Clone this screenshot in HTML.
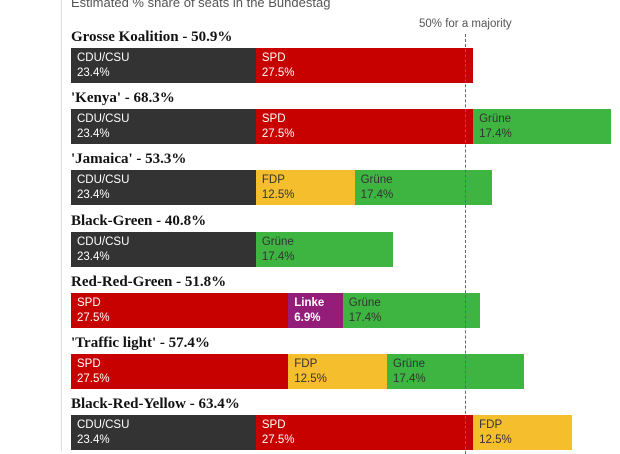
<!DOCTYPE html>
<html><head><meta charset="utf-8"><style>
body{margin:0;width:620px;height:451px;background:#fff;overflow:hidden;font-family:"Liberation Sans",sans-serif;}
#c{position:relative;width:620px;height:451px;}
.t{position:absolute;left:71px;font-family:"Liberation Serif",serif;font-weight:bold;font-size:15px;color:#121212;white-space:nowrap;}
.s{position:absolute;height:35px;box-sizing:border-box;padding:3px 0 0 6px;font-size:11.5px;line-height:15px;white-space:nowrap;overflow:hidden;}
</style></head><body>
<div id="c">
<div style="position:absolute;left:61px;top:0;width:1px;height:451px;background:#ddd"></div>
<div style="position:absolute;left:71px;top:-5px;font-size:13px;color:#555">Estimated % share of seats in the Bundestag</div>
<div style="position:absolute;left:419px;top:18px;font-size:11.5px;color:#555">50% for a majority</div>
</div>
<script>
const coalitions=["Grosse Koalition","'Kenya'","'Jamaica'","Black-Green","Red-Red-Green","'Traffic light'","Black-Red-Yellow"];
const parties=[["CDU/CSU","SPD"],["CDU/CSU","SPD","Grüne"],["CDU/CSU","FDP","Grüne"],["CDU/CSU","Grüne"],["SPD","Linke","Grüne"],["SPD","FDP","Grüne"],["CDU/CSU","SPD","FDP"]];
const shares=[[23.4,27.5],[23.4,27.5,17.4],[23.4,12.5,17.4],[23.4,17.4],[27.5,6.9,17.4],[27.5,12.5,17.4],[23.4,27.5,12.5]];
const majority=50;
const colors={"CDU/CSU":["#333333","#fff"],"SPD":["#c70000","#fff"],"Grüne":["#3db540","#333"],"FDP":["#f5be2c","#333"],"Linke":["#951d7a","#fff"]};
const x0=71,pxPer=7.9,top0=48,rowH=61.2;
const X=v=>x0+v*pxPer;
const c=document.getElementById('c');
coalitions.forEach((name,i)=>{
  const y=top0+i*rowH;
  const tot=shares[i].reduce((a,b)=>a+b,0);
  const t=document.createElement('div');t.className='t';
  
  
  t.style.top=(y-19)+'px';t.textContent=name+' - '+tot.toFixed(1)+'%';c.appendChild(t);
  let acc=0;
  parties[i].forEach((p,j)=>{
    const v=shares[i][j];const s=document.createElement('div');s.className='s';
    
    
    s.style.left=X(acc)+'px';s.style.top=y+'px';s.style.width=(X(acc+v)-X(acc))+'px';
    s.style.background=colors[p][0];s.style.color=colors[p][1];
    if(p==='Linke')s.style.fontWeight='bold';
    s.innerHTML=p+'<br>'+v.toFixed(1)+'%';c.appendChild(s);acc+=v;
  });
});
const m=document.createElement('div');


m.style.cssText='position:absolute;top:34px;height:420px;width:0;border-left:1.5px dashed #666;left:'+(X(majority)-1)+'px';
c.appendChild(m);
</script>
</body></html>
